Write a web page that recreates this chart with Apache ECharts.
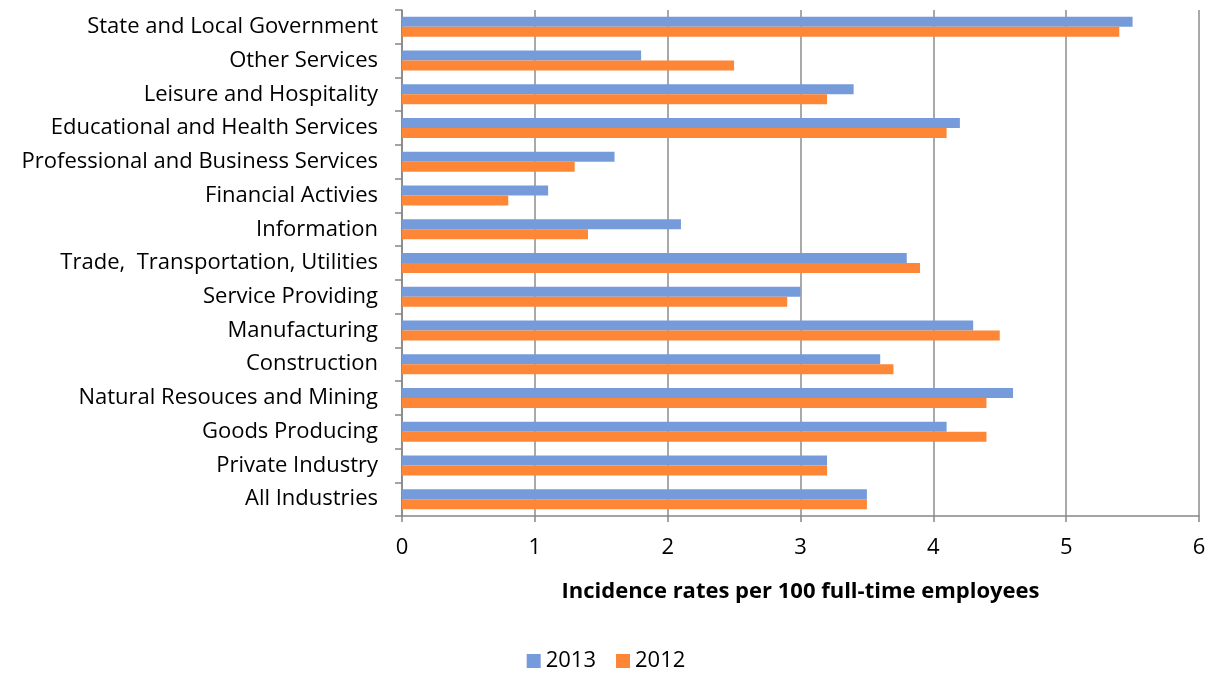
<!DOCTYPE html>
<html>
<head>
<meta charset="utf-8">
<script src="https://cdn.jsdelivr.net/npm/echarts@6/dist/echarts.min.js"></script>
<style>
  html, body { margin: 0; padding: 0; background: #fff; }
  #chart { width: 1212px; height: 675px; }
</style>
</head>
<body>
<div id="chart"></div>
<script>
// categories, bottom to top
const categories = [
  'All Industries',
  'Private Industry',
  'Goods Producing',
  'Natural Resouces and Mining',
  'Construction',
  'Manufacturing',
  'Service Providing',
  'Trade,  Transportation, Utilities',
  'Information',
  'Financial Activies',
  'Professional and Business Services',
  'Educational and Health Services',
  'Leisure and Hospitality',
  'Other Services',
  'State and Local Government'
];
const rates2013 = [3.5, 3.2, 4.1, 4.6, 3.6, 4.3, 3.0, 3.8, 2.1, 1.1, 1.6, 4.2, 3.4, 1.8, 5.5];
const rates2012 = [3.5, 3.2, 4.4, 4.4, 3.7, 4.5, 2.9, 3.9, 1.4, 0.8, 1.3, 4.1, 3.2, 2.5, 5.4];

const chart = echarts.init(document.getElementById('chart'));
const font = '"Open Sans", sans-serif';

const option = {
  animation: false,
  textStyle: { fontFamily: font },
  grid: { left: 402, right: 13, top: 10, bottom: 159 },
  legend: {
    bottom: -2,
    left: 'center',
    data: ['2013', '2012'],
    icon: 'rect',
    itemWidth: 14,
    itemHeight: 14,
    itemGap: 20,
    textStyle: { fontSize: 22, color: '#000', fontFamily: font }
  },
  xAxis: {
    type: 'value',
    min: 0,
    max: 6,
    interval: 1,
    name: 'Incidence rates per 100 full-time employees',
    nameLocation: 'middle',
    nameGap: 65,
    nameTextStyle: { fontSize: 22, fontWeight: 'bold', color: '#000', fontFamily: font },
    axisLine: { show: true, lineStyle: { color: '#868686', width: 1.5 } },
    axisTick: { show: true, length: 6, lineStyle: { color: '#868686', width: 1.5 } },
    axisLabel: { fontSize: 22, color: '#000', margin: 21 },
    splitLine: { show: true, lineStyle: { color: '#8c8c8c', width: 1.5 } }
  },
  yAxis: {
    type: 'category',
    data: categories,
    axisLine: { show: true, lineStyle: { color: '#868686', width: 1.5 } },
    axisTick: { show: true, length: 7, lineStyle: { color: '#868686', width: 1.5 } },
    axisLabel: { fontSize: 22, color: '#000', margin: 24 }
  },
  series: [
    {
      name: '2013',
      type: 'bar',
      data: rates2013,
      barWidth: 10,
      barGap: '0%',
      itemStyle: { color: '#769bdb' }
    },
    {
      name: '2012',
      type: 'bar',
      data: rates2012,
      barWidth: 10,
      barGap: '0%',
      itemStyle: { color: '#fe8637' }
    }
  ]
};

chart.setOption(option);
</script>
</body>
</html>
